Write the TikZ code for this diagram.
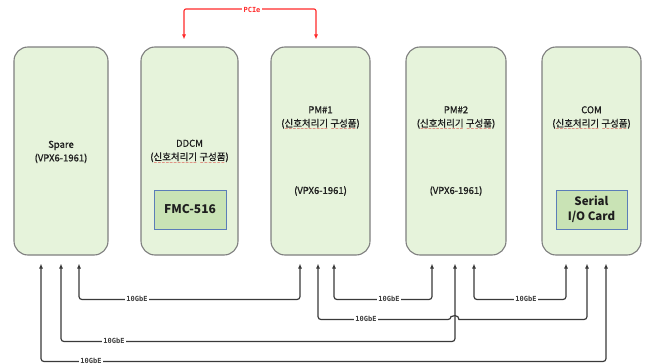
\documentclass[tikz,border=0pt]{standalone}
\usepackage{fontspec}
\setmainfont{Noto Sans CJK KR}
\newfontfamily\modf[FakeBold=0.7]{Noto Sans CJK KR}
\newfontfamily\monof{DejaVu Sans Mono}
\newfontfamily\dvs{DejaVu Sans}
\usetikzlibrary{arrows.meta,calc}
\definecolor{boxfill}{HTML}{E6F3DB}
\definecolor{boxline}{HTML}{7F7F7F}
\definecolor{cardfill}{HTML}{C9E3B5}
\definecolor{cardline}{HTML}{5B7DB8}
\definecolor{connc}{HTML}{3A3A3A}
\definecolor{pciec}{HTML}{FF2A2A}
\definecolor{txt}{HTML}{1E1E1E}
\newsavebox\rwbox
\newcommand\rw[1]{\sbox\rwbox{#1}\rlap{\usebox\rwbox}\raisebox{-4pt}{\color{red!85!black}\hbox to \wd\rwbox{\xleaders\hbox{\dvs\fontsize{4.5}{4.5}\selectfont ∼}\hfill}}}
\begin{document}
\begin{tikzpicture}[x=1pt,y=-1pt,
  module/.style={draw=boxline, line width=1.1pt, fill=boxfill, rounded corners=14pt, inner sep=0pt, minimum height=208pt},
  card/.style={draw=cardline, line width=0.6pt, fill=cardfill, inner sep=0pt, minimum height=39pt, align=center, text=txt},
  mtext/.style={align=center, text=txt, font=\modf\fontsize{9.5}{13.5}\selectfont, inner sep=0pt},
  link/.style={draw=connc, line width=1.2pt, rounded corners=3pt, {Latex[length=5pt,width=4pt]}-{Latex[length=5pt,width=4pt]}},
  pcielink/.style={draw=pciec, line width=1.1pt, rounded corners=2pt, {Latex[length=5pt,width=4pt]}-{Latex[length=5pt,width=4pt]}},
  lbl/.style={fill=white, inner sep=1.5pt, text=connc, font=\monof\bfseries\fontsize{7}{7}\selectfont},
  plbl/.style={fill=white, inner sep=1.5pt, text=pciec, font=\monof\bfseries\fontsize{7}{7}\selectfont}]
\useasboundingbox[fill=white] (0,0) rectangle (648,364);

% modules
\node[module, minimum width=94pt] (spare) at (61,151) {};
\node[module, minimum width=97pt] (ddcm) at (189.5,151) {};
\node[module, minimum width=99pt] (pm1) at (320.5,151) {};
\node[module, minimum width=100pt] (pm2) at (456,151) {};
\node[module, minimum width=99pt] (com) at (591.5,151) {};

% module texts
\node[mtext] (sparet) at (61,152) {Spare\\(VPX6-1961)};
\node[mtext] (ddcmt) at (189.5,152) {DDCM\\(\rw{신호처리기} \rw{구성품})};
\node[mtext] (pm1t) at (320.5,118.5) {PM\#1\\(\rw{신호처리기} \rw{구성품})};
\node[mtext] (pm1v) at (320.5,191) {(VPX6-1961)};
\node[mtext] (pm2t) at (456,118.5) {PM\#2\\(\rw{신호처리기} \rw{구성품})};
\node[mtext] (pm2v) at (456,191) {(VPX6-1961)};
\node[mtext] (comt) at (591.5,118.5) {COM\\(\rw{신호처리기} \rw{구성품})};

% cards
\node[card, minimum width=72pt, font=\bfseries\fontsize{12}{14}\selectfont] (fmc) at (190,209.5) {FMC-516};
\node[card, minimum width=71pt, font=\bfseries\fontsize{11.5}{15}\selectfont] (sio) at (591.5,209.5) {Serial\\I/O Card};

% connector end points
\coordinate (s1) at ([xshift=-20pt,yshift=-8pt]spare.south);
\coordinate (s2) at ([xshift=0pt,yshift=-8pt]spare.south);
\coordinate (s3) at ([xshift=18pt,yshift=-8pt]spare.south);
\coordinate (p1a) at ([xshift=-20.5pt,yshift=-8pt]pm1.south);
\coordinate (p1b) at ([xshift=-2.5pt,yshift=-8pt]pm1.south);
\coordinate (p1c) at ([xshift=13.5pt,yshift=-8pt]pm1.south);
\coordinate (p2a) at ([xshift=-24pt,yshift=-8pt]pm2.south);
\coordinate (p2b) at ([xshift=-1pt,yshift=-8pt]pm2.south);
\coordinate (p2c) at ([xshift=18pt,yshift=-8pt]pm2.south);
\coordinate (c1) at ([xshift=-25.5pt,yshift=-8pt]com.south);
\coordinate (c2) at ([xshift=-4.5pt,yshift=-8pt]com.south);
\coordinate (c3) at ([xshift=14.5pt,yshift=-8pt]com.south);
\coordinate (dd) at ([xshift=-5.5pt,yshift=7pt]ddcm.north);
\coordinate (pp) at ([xshift=-4.5pt,yshift=7pt]pm1.north);

% 10GbE links
\draw[link] (s3) -- ++(0,36) -| (p1a);
\draw[link] (p1c) -- ++(0,36) -| (p2a);
\draw[link] (p2c) -- ++(0,36) -| (c1);
\draw[link] (s2) -- ++(0,78) -| (p2b);
\draw[link] (s1) -- ++(0,98) -| (c3);
\draw[link] (p1b) -- ++(0,56) coordinate (h0) -- ($(p2b |- h0)+(-4,0)$) [sharp corners] arc[start angle=180, end angle=0, radius=4pt] [rounded corners=3pt] -| (c2);

\node[lbl] (l1) at (137,299) {10GbE};
\node[lbl] (l2) at (389,299) {10GbE};
\node[lbl] (l3) at (526,299) {10GbE};
\node[lbl] (l4) at (366,319) {10GbE};
\node[lbl] (l5) at (114,341) {10GbE};
\node[lbl] (l6) at (91,361) {10GbE};

% PCIe
\draw[pcielink] (dd) -- ++(0,-30.5) -| (pp);
\node[plbl] (pl) at (252,9.5) {PCIe};
\end{tikzpicture}
\end{document}
